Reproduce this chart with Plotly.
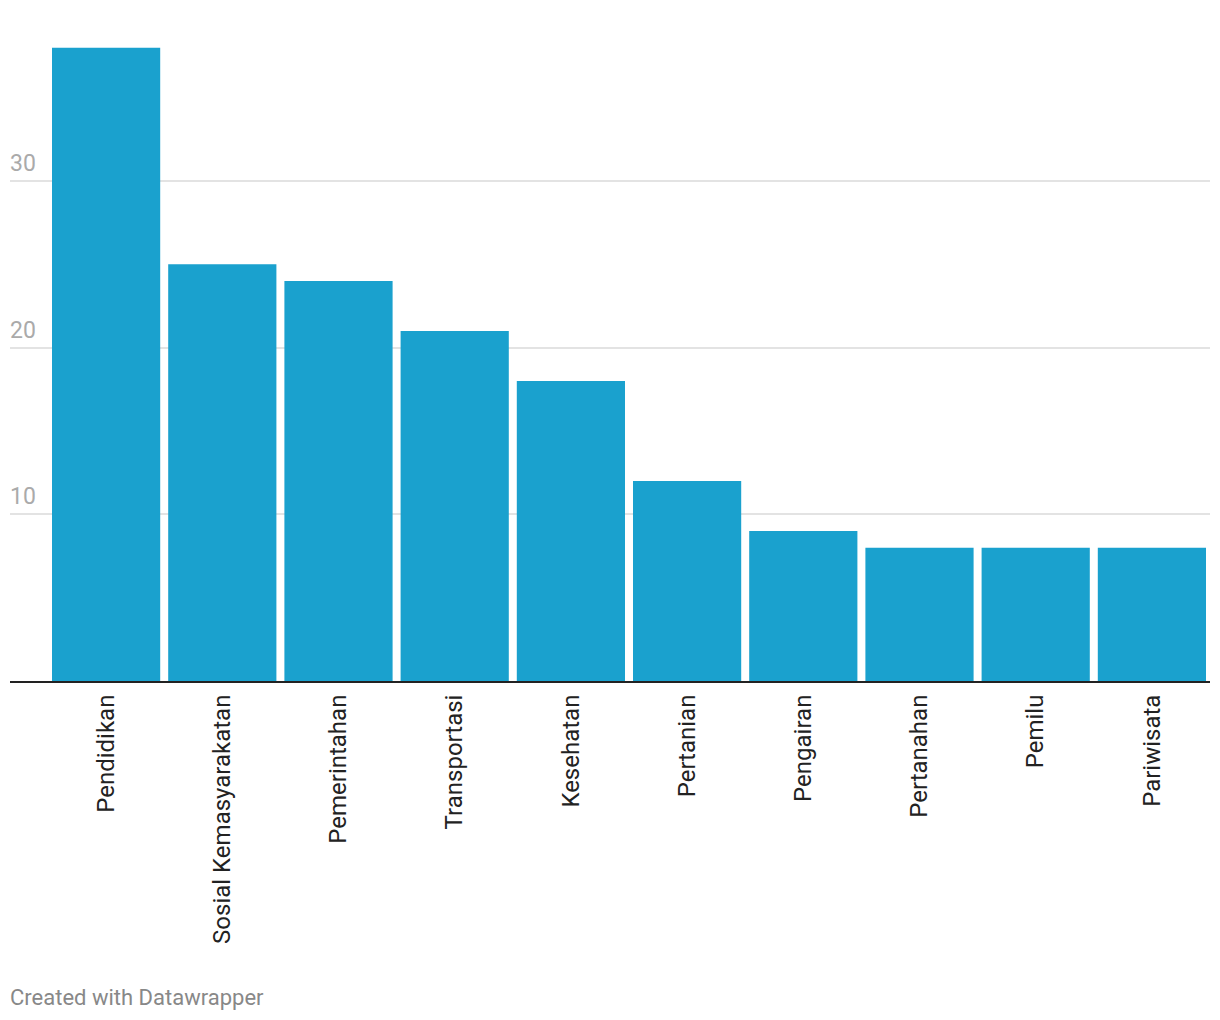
import plotly.graph_objects as go

categories = ["Pendidikan", "Sosial Kemasyarakatan", "Pemerintahan", "Transportasi",
              "Kesehatan", "Pertanian", "Pengairan", "Pertanahan", "Pemilu", "Pariwisata"]
values = [38, 25, 24, 21, 18, 12, 9, 8, 8, 8]
y_ticks = [10, 20, 30]
y_tick_labels = ["10", "20", "30"]

OFF = 8  # page body margin
W, H = 1220 - OFF, 1020 - OFF
left, right, top = 10 - OFF, 10, 40 - OFF
base_y = 681 - OFF
bottom = H - base_y
plot_h = H - top - bottom
px_per_unit = (681 - 181) / 30.0
ymax = plot_h / px_per_unit
slot = (1206 - 52 + 8) / 10.0
extra_left = (48 - 10) / slot

fig = go.Figure()
fig.add_trace(go.Bar(
    x=categories, y=values,
    marker=dict(color="#1aa1ce", line=dict(width=0)),
    hoverinfo="x+y",
))

for v, lab in zip(y_ticks, y_tick_labels):
    fig.add_annotation(
        x=0, xref="paper", y=v, yref="y", text=lab, showarrow=False,
        xanchor="left", yanchor="bottom", yshift=2, xshift=-2,
        font=dict(family="Roboto", size=23, color="#aaaaaa"),
    )

fig.add_annotation(
    x=0, xref="paper", y=(base_y - (997 - OFF)) / plot_h, yref="paper",
    text="Created with Datawrapper", xshift=-2,
    showarrow=False, xanchor="left", yanchor="middle",
    font=dict(family="Roboto", size=22, color="#888888"),
)

fig.update_layout(
    width=W, height=H,
    margin=dict(l=left, r=right, t=top, b=bottom, pad=0),
    paper_bgcolor="white", plot_bgcolor="white",
    bargap=8 / slot,
    showlegend=False,
    font=dict(family="Roboto", color="#333333"),
    xaxis=dict(
        type="category",
        range=[-0.5 - extra_left, 9.5],
        tickangle=-90,
        tickfont=dict(family="Roboto", size=24, color="#222222"),
        showline=True, linecolor="#222222", linewidth=2,
        ticks="outside", ticklen=2, tickcolor="rgba(0,0,0,0)",
        showgrid=False, zeroline=False, fixedrange=True,
    ),
    yaxis=dict(
        range=[0, ymax],
        tickvals=y_ticks, showticklabels=False,
        showgrid=True, gridcolor="#e3e3e3", gridwidth=2,
        zeroline=False, showline=False, fixedrange=True,
    ),
)

fig.write_html("out.html")
